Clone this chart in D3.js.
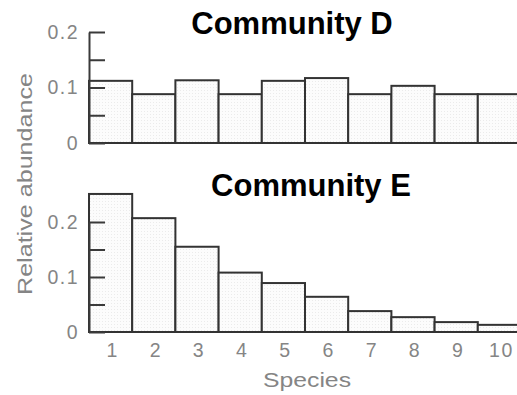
<!DOCTYPE html>
<html>
<head>
<meta charset="utf-8">
<script src="https://cdn.jsdelivr.net/npm/d3@7"></script>
<style>
  body { margin: 0; background: #fff; }
  svg { display: block; }
  .tickText { font-family: "Liberation Sans", Arial, sans-serif; font-size: 19.5px; fill: #858585; letter-spacing: 1.5px; }
  .title { font-family: "Liberation Sans", Arial, sans-serif; font-size: 31px; font-weight: bold; fill: #000; }
</style>
</head>
<body>
<div id="chart"></div>
<script>
// Data
var species = ["1", "2", "3", "4", "5", "6", "7", "8", "9", "10"];
var communityD = [0.112, 0.088, 0.113, 0.088, 0.112, 0.117, 0.088, 0.103, 0.088, 0.088];
var communityE = [0.251, 0.207, 0.155, 0.108, 0.089, 0.064, 0.038, 0.027, 0.018, 0.013];
var yTickValues = [0, 0.05, 0.1, 0.15, 0.2];
var yTickLabels = {0: "0", 0.1: "0.1", 0.2: "0.2"};

var svgWidth = 517;
var svgHeight = 395;

var svg = d3.select("#chart")
  .append("svg")
  .attr("width", svgWidth)
  .attr("height", svgHeight);

// faint stipple fill for bars
var pattern = svg.append("defs").append("pattern")
  .attr("id", "dots")
  .attr("width", 3)
  .attr("height", 3)
  .attr("patternUnits", "userSpaceOnUse");
pattern.append("rect").attr("width", 3).attr("height", 3).attr("fill", "#fcfcfc");
pattern.append("rect").attr("width", 1).attr("height", 1).attr("fill", "#ebebeb");

// Shared x scale
var xScale = d3.scaleBand()
  .domain(species)
  .range([89, 521])
  .padding(0);

// One y scale per panel
var yTop = d3.scaleLinear().domain([0, 0.2]).range([143, 32]);
var yBottom = d3.scaleLinear().domain([0, 0.2]).range([332, 222]);

function drawPanel(values, yScale, title, titleX, titleY) {
  var g = svg.append("g");

  g.selectAll("rect.bar")
    .data(values)
    .enter()
    .append("rect")
    .attr("class", "bar")
    .attr("x", (d, i) => xScale(species[i]))
    .attr("y", d => yScale(d))
    .attr("width", xScale.bandwidth())
    .attr("height", d => yScale(0) - yScale(d))
    .attr("fill", "url(#dots)")
    .attr("stroke", "#333")
    .attr("stroke-width", 2);

  var leftAxis = d3.axisLeft(yScale)
    .tickValues(yTickValues)
    .tickSizeInner(-16)
    .tickSizeOuter(0)
    .tickPadding(10)
    .tickFormat(d => yTickLabels[d] || "");

  var axisG = g.append("g")
    .attr("transform", "translate(89,0)")
    .call(leftAxis);
  axisG.selectAll("line, path").attr("stroke", "#3a3a3a").attr("stroke-width", 2);
  axisG.selectAll("text").attr("class", "tickText").attr("font-size", null).attr("font-family", null).attr("fill", null);

  g.append("text")
    .attr("class", "title")
    .attr("x", titleX)
    .attr("y", titleY)
    .attr("text-anchor", "middle")
    .text(title);
}

drawPanel(communityD, yTop, "Community D", 292, 34);
drawPanel(communityE, yBottom, "Community E", 311, 196);

// Species labels under the lower panel
var bottomAxis = d3.axisBottom(xScale)
  .tickSize(0)
  .tickPadding(11);
var xAxisG = svg.append("g")
  .attr("transform", "translate(2,332)")
  .call(bottomAxis);
xAxisG.select(".domain").remove();
xAxisG.selectAll("text").attr("class", "tickText").attr("font-size", null).attr("font-family", null).attr("fill", null);

// Axis titles (glyphs stretched a little, like the scanned original)
svg.append("text")
  .attr("class", "tickText")
  .attr("x", 307)
  .attr("y", 387)
  .attr("text-anchor", "middle")
  .style("letter-spacing", "0px")
  .attr("textLength", 88)
  .attr("lengthAdjust", "spacingAndGlyphs")
  .text("Species");

svg.append("text")
  .attr("class", "tickText")
  .attr("transform", "translate(32,184) rotate(-90)")
  .attr("text-anchor", "middle")
  .style("letter-spacing", "0px")
  .attr("textLength", 222)
  .attr("lengthAdjust", "spacingAndGlyphs")
  .text("Relative abundance");
</script>
</body>
</html>
